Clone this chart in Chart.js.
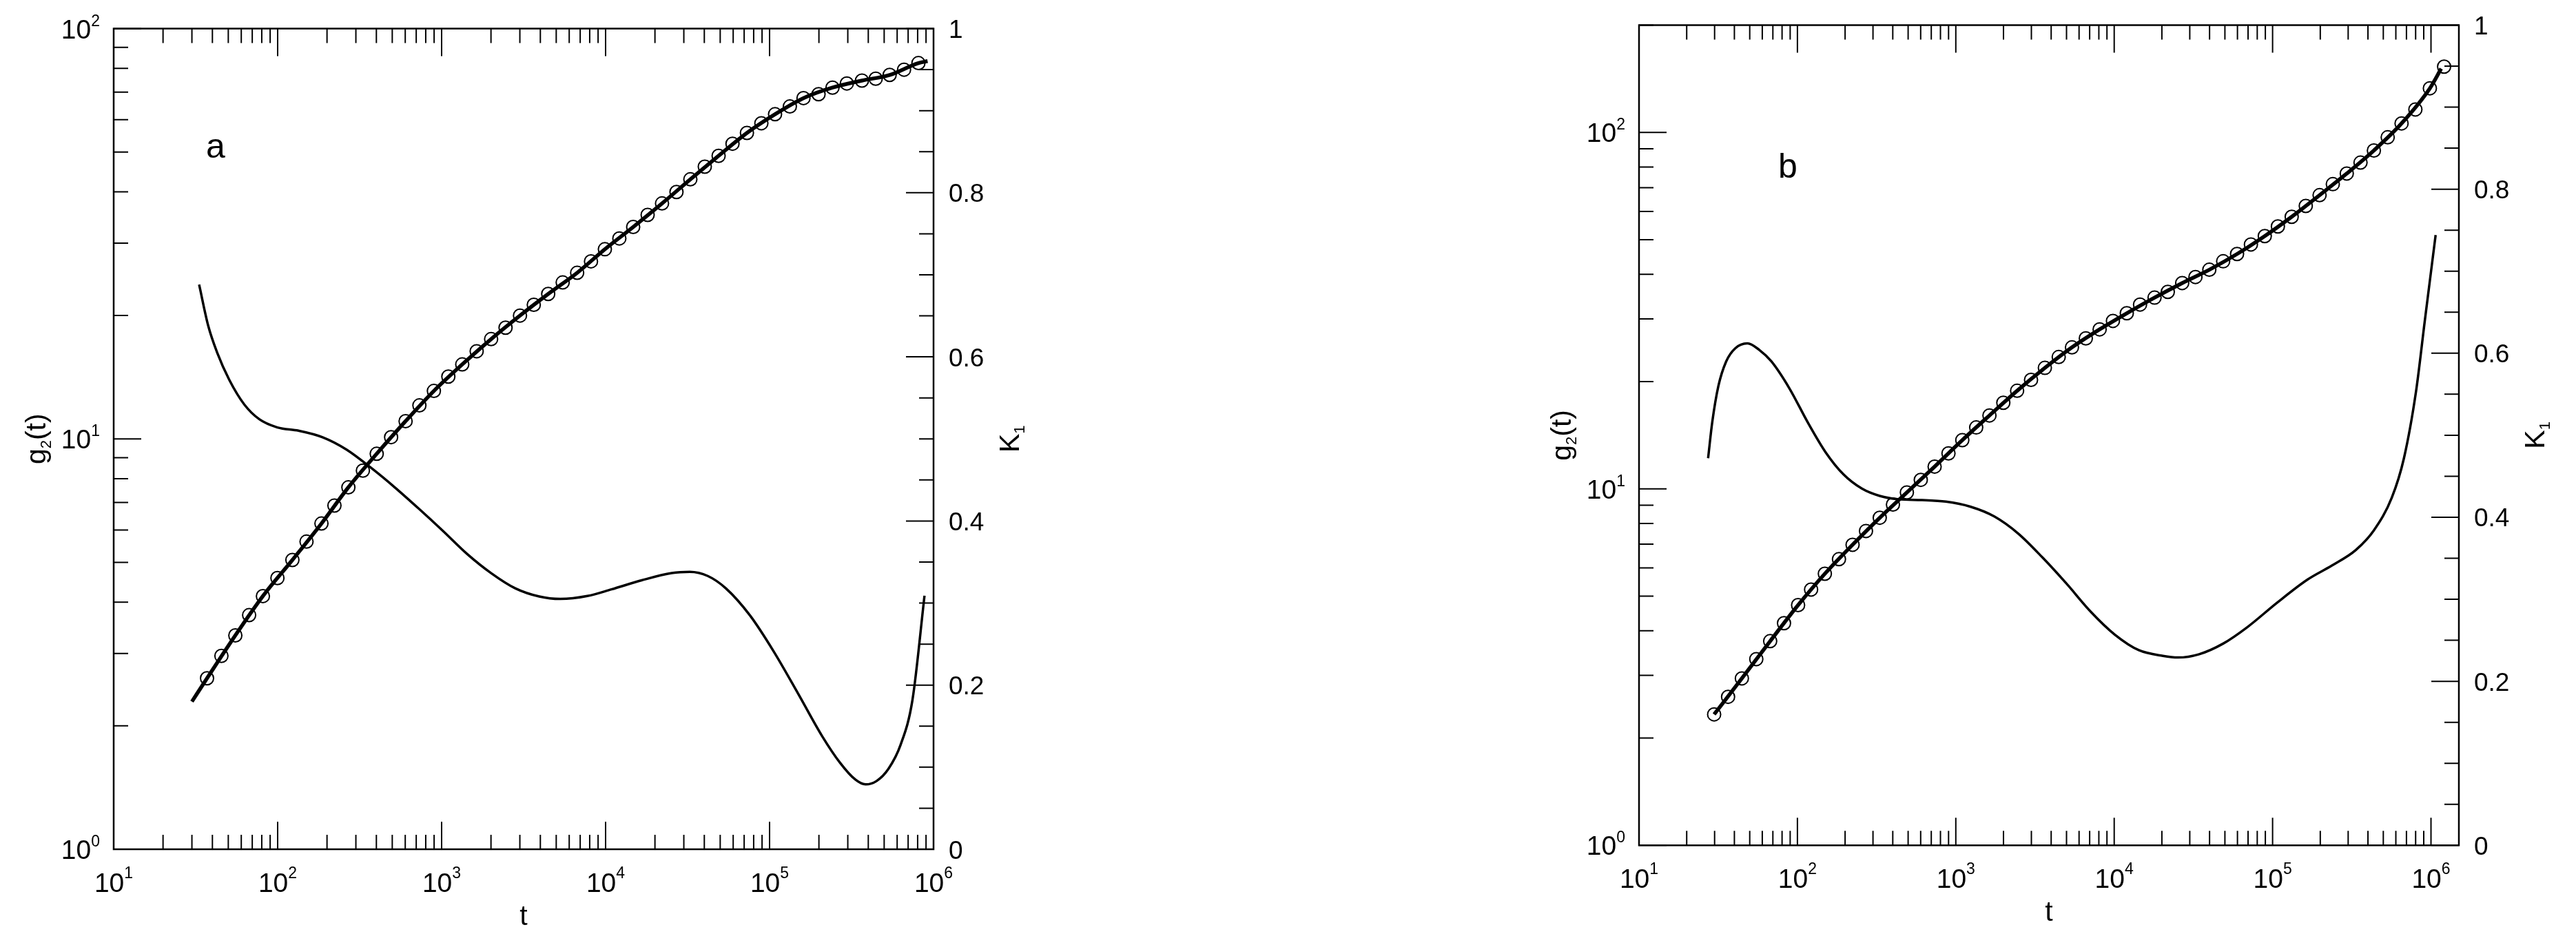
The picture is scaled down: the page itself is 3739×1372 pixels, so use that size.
<!DOCTYPE html>
<html>
<head>
<meta charset="utf-8">
<script src="https://cdn.jsdelivr.net/npm/chart.js@4.4.0/dist/chart.umd.min.js"></script>
<style>
    html, body { margin: 0; padding: 0; background: #fff; }
    body { width: 3739px; height: 1372px; position: relative; overflow: hidden; }
    canvas { position: absolute; top: 0; }
    #panelA { left: 0; }
    #panelB { left: 2150px; }
</style>
</head>
<body>
<canvas id="panelA" width="1700" height="1372"></canvas>
<canvas id="panelB" width="1589" height="1372"></canvas>
<script>
// ------------------------------------------------------------------
// DATA
// ------------------------------------------------------------------

// panel a : measured g2(t), circles
const tA = [37.1, 45.4, 55.2, 67.0, 81.3, 99.7, 123, 150, 185, 222, 270, 331, 402, 492, 603, 732, 897,
    1099, 1336, 1636, 2004, 2454, 3006, 3648, 4467, 5475, 6708, 8147, 9900, 12130, 14730, 18050, 22090,
    27060, 32880, 40270, 48900, 59430, 72780, 89130, 108000, 133000, 161000, 199000, 242000, 296000,
    366000, 444000, 540000, 661000, 809000];
const g2A = [2.61, 2.96, 3.32, 3.72, 4.14, 4.58, 5.07, 5.62, 6.22, 6.88, 7.62, 8.37, 9.20, 10.1, 11.05, 12.07, 13.09,
    14.19, 15.19, 16.36, 17.51, 18.67, 19.98, 21.23, 22.56, 24.06, 25.40, 27.09, 28.99, 30.8, 32.85, 35.15, 37.49,
    39.98, 42.92, 46.08, 48.97, 52.41, 55.69, 58.79, 61.84, 64.6, 67.7, 69.2, 71.8, 73.5,
    74.7, 75.5, 77.1, 79.4, 82.4];

// panel a : fitted g2(t), thick line
const tFitA = [30, 37.1, 55.2, 81.3, 123, 185, 270, 402, 603, 897, 1336, 2004, 3006, 4467, 6708, 9900,
    14730, 22090, 32880, 48900, 72780, 108000, 161000, 242000, 366000, 540000, 809000, 920000];
const gFitA = [2.29, 2.61, 3.32, 4.14, 5.07, 6.22, 7.62, 9.20, 11.05, 13.09, 15.19, 17.51, 19.98, 22.56, 25.40, 28.99,
    32.85, 37.49, 42.92, 48.97, 55.69, 61.84, 67.7, 71.8, 74.7, 77.1, 82.4, 83.3];

// panel a : K1(t), thin line, right axis
const tKA = [33.2, 37.7, 42.8, 50.7, 62.6, 77.3, 99.7, 134, 188, 263, 370, 518, 726, 1018, 1428, 2004, 2811,
    3939, 5293, 7745, 10860, 16590, 25300, 32600, 42000, 54100, 75900, 106000, 149000, 209000, 270000,
    333000, 385000, 448000, 531000, 629000, 744000, 881000];
const kA = [0.688, 0.638, 0.605, 0.572, 0.542, 0.524, 0.514, 0.510, 0.502, 0.487, 0.465, 0.441, 0.415, 0.388, 0.360, 0.3365, 0.318,
    0.308, 0.305, 0.3086, 0.3167, 0.3277, 0.3365, 0.338, 0.333, 0.318, 0.285, 0.241, 0.190, 0.138, 0.105,
    0.085, 0.079, 0.083, 0.098, 0.127, 0.182, 0.309];

// panel b : measured g2(t), circles
const tB = [29.8, 36.5, 44.6, 55.0, 67.3, 82.3, 101, 122, 149, 183, 223, 271, 331, 401, 491, 601, 735, 899,
    1099, 1345, 1631, 1995, 2438, 2985, 3650, 4464, 5412, 6620, 8093, 9818, 12010, 14560, 17980, 21800,
    26870, 32580, 39860, 48750, 59650, 72970, 89260, 108000, 132000, 162000, 198000, 240000, 294000,
    359000, 436000, 533000, 652000, 797000, 984000, 1210000];
const g2B = [2.33, 2.61, 2.94, 3.33, 3.74, 4.20, 4.72, 5.22, 5.78, 6.35, 6.97, 7.62, 8.30, 9.04, 9.77, 10.6, 11.55, 12.58,
    13.70, 14.87, 16.07, 17.44, 18.85, 20.22, 21.85, 23.44, 24.95, 26.44, 28.03, 29.6, 31.1, 32.9, 34.4, 35.7,
    37.8, 39.3, 41.2, 43.5, 45.6, 48.5, 51.2, 54.5, 58.0, 62.2, 66.7, 71.6, 76.7,
    82.3, 89.0, 96.9, 106, 116, 133, 153];

// panel b : fitted g2(t)
const tFitB = [29.8, 44.6, 67.3, 101, 149, 223, 331, 491, 735, 1099, 1631, 2438, 3650, 5412, 8093, 12010,
    17980, 26870, 39860, 59650, 89260, 132000, 198000, 294000, 436000, 652000, 984000, 1160000];
const gFitB = [2.33, 2.94, 3.74, 4.72, 5.78, 6.97, 8.30, 9.77, 11.55, 13.70, 16.07, 18.85, 21.85, 24.95, 28.03, 31.1,
    34.4, 37.8, 41.2, 45.6, 51.2, 58.0, 66.7, 76.7, 89.0, 106, 133, 151];

// panel b : K1(t)
const tKB = [27.3, 29.0, 31.7, 35.5, 40.5, 48.3, 57.5, 68.5, 89.1, 116, 151, 196, 255, 331, 431, 611, 867,
    1231, 1749, 2483, 3524, 5003, 7101, 10080, 14300, 20290, 25280, 34360, 48770, 69230, 107000, 166000,
    236000, 335000, 436000, 566000, 675000, 804000, 916000, 1070000];
const kB = [0.472, 0.516, 0.560, 0.590, 0.606, 0.612, 0.604, 0.590, 0.557, 0.516, 0.479, 0.452, 0.435, 0.426, 0.422, 0.421, 0.419,
    0.413, 0.401, 0.380, 0.351, 0.319, 0.285, 0.257, 0.238, 0.231, 0.229, 0.233, 0.246, 0.266, 0.296, 0.324,
    0.341, 0.360, 0.384, 0.424, 0.472, 0.553, 0.641, 0.744];

// tick labels
const xMajorTicks = [10, 100, 1e3, 1e4, 1e5, 1e6];
const xTickExp    = ["1", "2", "3", "4", "5", "6"];
const yMajorTicks = [1, 10, 100];
const yTickExp    = ["0", "1", "2"];
const kMajorTicks = [0, 0.2, 0.4, 0.6, 0.8, 1];
const kTickLabels = ["0", "0.2", "0.4", "0.6", "0.8", "1"];

// ------------------------------------------------------------------
const FONT = '"Liberation Sans", Arial, sans-serif';
const MAJOR_LEN = 40;
const MINOR_LEN = 21;

function pts(xs, ys) {
    return xs.map((x, i) => ({ x: x, y: ys[i] }));
}

function logTicks(min, max) {
    const major = [], minor = [];
    for (let e = Math.floor(Math.log10(min)); e <= Math.ceil(Math.log10(max)); e++) {
        for (let m = 1; m <= 9; m++) {
            const v = m * Math.pow(10, e);
            if (v < min * 0.999 || v > max * 1.001) continue;
            (m === 1 ? major : minor).push(v);
        }
    }
    return { major, minor };
}

// "10" with superscript exponent; align = 'center' or 'right'
function drawPower(ctx, exp, x, y, align, supRise) {
    ctx.font = "39px " + FONT;
    const w1 = ctx.measureText("10").width;
    ctx.font = "23px " + FONT;
    const w2 = ctx.measureText(exp).width;
    const total = w1 + w2;
    const x0 = align === "right" ? x - total : x - total / 2;
    ctx.textAlign = "left";
    ctx.textBaseline = "alphabetic";
    ctx.font = "39px " + FONT;
    ctx.fillText("10", x0, y);
    ctx.font = "23px " + FONT;
    ctx.fillText(exp, x0 + w1, y - supRise);
}

// rotated title with a subscript, read bottom to top
function drawRotTitle(ctx, parts, bx, cy) {
    ctx.save();
    ctx.translate(bx, cy);
    ctx.rotate(-Math.PI / 2);
    ctx.textAlign = "left";
    ctx.textBaseline = "alphabetic";
    let total = 0;
    parts.forEach(p => { ctx.font = p.size + "px " + FONT; p.w = ctx.measureText(p.text).width; total += p.w; });
    let x = -total / 2;
    parts.forEach(p => {
        ctx.font = p.size + "px " + FONT;
        ctx.fillText(p.text, x, p.shift);
        x += p.w;
    });
    ctx.restore();
}

// ------------------------------------------------------------------
// frame, inward ticks, labels
// ------------------------------------------------------------------
const tickFrame = {
    id: "tickFrame",
    afterDraw(chart, args, o) {
        const ctx = chart.ctx;
        const a = chart.chartArea;
        const sx = chart.scales.x, sy = chart.scales.y, sk = chart.scales.y1;

        ctx.save();
        ctx.strokeStyle = "#000";
        ctx.fillStyle = "#000";
        ctx.lineCap = "butt";

        // ticks
        ctx.lineWidth = 2;
        ctx.beginPath();
        const xt = logTicks(sx.min, sx.max);
        [[xt.major, MAJOR_LEN], [xt.minor, MINOR_LEN]].forEach(([list, len]) => {
            list.forEach(v => {
                const p = sx.getPixelForValue(v);
                ctx.moveTo(p, a.bottom); ctx.lineTo(p, a.bottom - len);
                ctx.moveTo(p, a.top);    ctx.lineTo(p, a.top + len);
            });
        });
        const yt = logTicks(sy.min, sy.max);
        [[yt.major, MAJOR_LEN], [yt.minor, MINOR_LEN]].forEach(([list, len]) => {
            list.forEach(v => {
                const p = sy.getPixelForValue(v);
                ctx.moveTo(a.left, p); ctx.lineTo(a.left + len, p);
            });
        });
        for (let i = 0; i <= 20; i++) {
            const v = i * 0.05;
            const len = (i % 4 === 0) ? MAJOR_LEN : MINOR_LEN;
            const p = sk.getPixelForValue(v);
            ctx.moveTo(a.right, p); ctx.lineTo(a.right - len, p);
        }
        ctx.stroke();

        // frame
        ctx.lineWidth = 2.5;
        ctx.strokeRect(a.left, a.top, a.right - a.left, a.bottom - a.top);

        // bottom labels
        xMajorTicks.forEach((v, i) => {
            if (v > sx.max * 1.001) return;
            drawPower(ctx, xTickExp[i], sx.getPixelForValue(v), a.bottom + 62, "center", 20);
        });
        // left labels
        yMajorTicks.forEach((v, i) => {
            if (v > sy.max * 1.001) return;
            drawPower(ctx, yTickExp[i], a.left - 20, sy.getPixelForValue(v) + 14, "right", 18);
        });
        // right labels
        ctx.font = "37px " + FONT;
        ctx.textAlign = "left";
        ctx.textBaseline = "alphabetic";
        kMajorTicks.forEach((v, i) => {
            ctx.fillText(kTickLabels[i], a.right + 22, sk.getPixelForValue(v) + 13.5);
        });

        // axis titles
        const cx = (a.left + a.right) / 2, cy = (a.top + a.bottom) / 2;
        ctx.font = "41px " + FONT;
        ctx.textAlign = "center";
        ctx.fillText("t", cx, a.bottom + 110);
        drawRotTitle(ctx, [
            { text: "g", size: 41, shift: 0 },
            { text: "2", size: 22, shift: 8 },
            { text: "(t)", size: 41, shift: 0 }
        ], a.left - 99, cy);
        drawRotTitle(ctx, [
            { text: "K", size: 41, shift: 0 },
            { text: "1", size: 22, shift: 8 }
        ], a.right + 124, cy);

        // panel letter
        ctx.font = "50px " + FONT;
        ctx.textAlign = "left";
        ctx.fillText(o.letter, a.left + o.letterDx, a.top + o.letterDy);

        ctx.restore();
    }
};

// ------------------------------------------------------------------
function makePanel(id, circ, fit, kin, xMax, yMax, padding, letter, letterDx, letterDy) {
    new Chart(document.getElementById(id), {
        type: "line",
        data: {
            datasets: [
                {
                    data: circ,
                    showLine: false,
                    pointStyle: "circle",
                    pointRadius: 9.5,
                    pointBorderWidth: 2,
                    pointBorderColor: "#000",
                    pointBackgroundColor: "rgba(0,0,0,0)",
                    yAxisID: "y"
                },
                {
                    data: fit,
                    borderColor: "#000",
                    borderWidth: 5.5,
                    pointRadius: 0,
                    cubicInterpolationMode: "monotone",
                    fill: false,
                    yAxisID: "y"
                },
                {
                    data: kin,
                    borderColor: "#000",
                    borderWidth: 3.5,
                    pointRadius: 0,
                    cubicInterpolationMode: "monotone",
                    fill: false,
                    yAxisID: "y1"
                }
            ]
        },
        options: {
            responsive: false,
            animation: false,
            events: [],
            layout: { padding: padding, autoPadding: false },
            plugins: {
                legend: { display: false },
                tooltip: { enabled: false },
                tickFrame: { letter: letter, letterDx: letterDx, letterDy: letterDy }
            },
            scales: {
                x:  { type: "logarithmic", min: 10, max: xMax, display: false },
                y:  { type: "logarithmic", min: 1, max: yMax, display: false },
                y1: { type: "linear", min: 0, max: 1, display: false, position: "right" }
            }
        },
        plugins: [tickFrame]
    });
}

makePanel("panelA", pts(tA, g2A), pts(tFitA, gFitA), pts(tKA, kA), 1e6, 100,
    { left: 165, top: 41.5, right: 345, bottom: 139 }, "a", 134, 187.5);

makePanel("panelB", pts(tB, g2B), pts(tFitB, gFitB), pts(tKB, kB), 1.5e6, 200,
    { left: 229, top: 36.5, right: 170, bottom: 144.7 }, "b", 202, 221.5);
</script>
</body>
</html>
